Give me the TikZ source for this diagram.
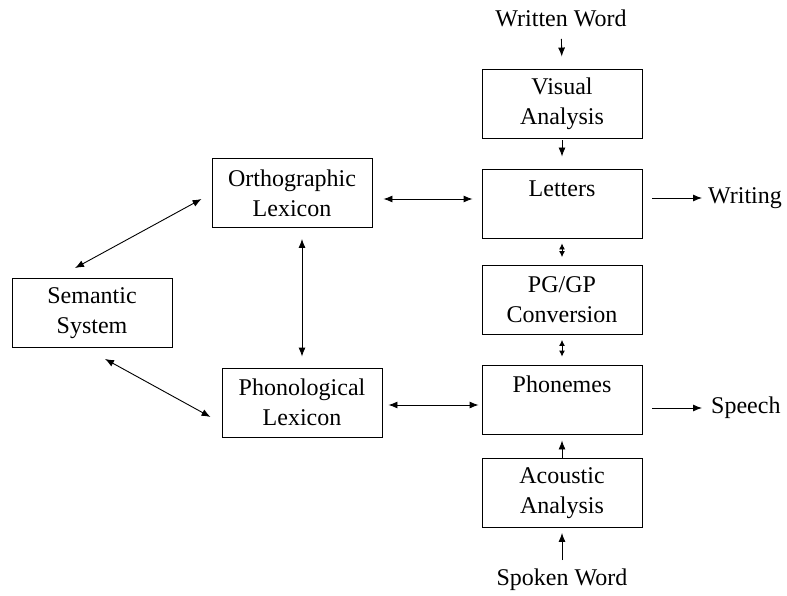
\documentclass[tikz,border=0pt]{standalone}
\usepackage{fontspec}
\setmainfont{Liberation Serif}
\usetikzlibrary{arrows.meta,calc}

\begin{document}
\begin{tikzpicture}[x=1pt,y=-1pt,
  box/.style={draw, line width=0.9pt, minimum width=160pt, minimum height=69pt,
              inner sep=0pt, align=center, font=\fontsize{24}{30}\selectfont},
  lbl/.style={inner sep=0pt, font=\fontsize{24}{30}\selectfont},
  link/.style={line width=0.9pt, {Latex[length=9pt,width=7pt]}-{Latex[length=9pt,width=7pt]}},
  shortlink/.style={line width=0.9pt, {Latex[length=6pt,width=6pt]}-{Latex[length=6pt,width=6pt]}},
  flow/.style={line width=0.9pt, -{Latex[length=9pt,width=7pt]}}]
\useasboundingbox (0,0) rectangle (787,596);

% right-hand column
\node[lbl]  (written)  at (561,18)    {Written Word};
\node[box]  (visual)   at (562,103.5) {Visual\\Analysis};
\node[box]  (letters)  at (562,203.5) {Letters\\\mbox{}};
\node[box]  (pggp)     at (562,300)   {PG/GP\\Conversion};
\node[box]  (phonemes) at (562,399.5) {Phonemes\\\mbox{}};
\node[box]  (acoustic) at (562,493)   {Acoustic\\Analysis};
\node[lbl]  (spoken)   at (562,580)   {Spoken Word};
\node[lbl, anchor=west] (writing) at (708,198) {Writing};
\node[lbl, anchor=west] (speech)  at (711,408) {Speech};

% lexicons and semantic system
\node[box]  (ortho)    at (292,193)   {Orthographic\\Lexicon};
\node[box]  (phono)    at (302,402.5) {Phonological\\Lexicon};
\node[box]  (semantic) at (92,313)    {Semantic\\System};

% vertical flow in the right column
\draw[flow, shorten <=21pt, shorten >=12pt] (written.center) -- (visual.north);
\draw[flow, shorten <=2pt, shorten >=12pt] (visual.south) -- (letters.north);
\draw[shortlink, shorten <=5pt, shorten >=8pt] (letters.south) -- (pggp.north);
\draw[shortlink, shorten <=5pt, shorten >=8pt] (pggp.south) -- (phonemes.north);
\draw[flow, shorten >=6pt] (acoustic.north) -- (phonemes.south);
\draw[flow, shorten <=20pt, shorten >=5pt] (spoken.center) -- (acoustic.south);

% outputs
\draw[flow, shorten <=10pt, shorten >=6pt] (letters.east |- writing.west) -- (writing.west);
\draw[flow, shorten <=10pt, shorten >=9pt] (phonemes.east |- speech.west) -- (speech.west);

% lexical routes
\coordinate (ol) at ($(ortho.east)+(0,6)$);
\draw[link, shorten <=11pt, shorten >=9pt] (ol) -- (ol -| letters.west);
\coordinate (pp) at ($(phono.east)+(0,2.5)$);
\draw[link, shorten <=6pt, shorten >=3pt] (pp) -- (pp -| phonemes.west);
\coordinate (op) at (phono.north |- ortho.south);
\draw[link, shorten <=11pt, shorten >=11pt] (op) -- (phono.north);

% links to the semantic system
\coordinate (so) at ($(semantic.north)+(-17,-10)$);
\coordinate (os) at ($(ortho.west)+(-10,6)$);
\draw[link] (so) -- (os);
\coordinate (sp) at ($(semantic.south)+(13,11)$);
\coordinate (ps) at ($(phono.west)+(-11,14.5)$);
\draw[link] (sp) -- (ps);
\end{tikzpicture}
\end{document}
